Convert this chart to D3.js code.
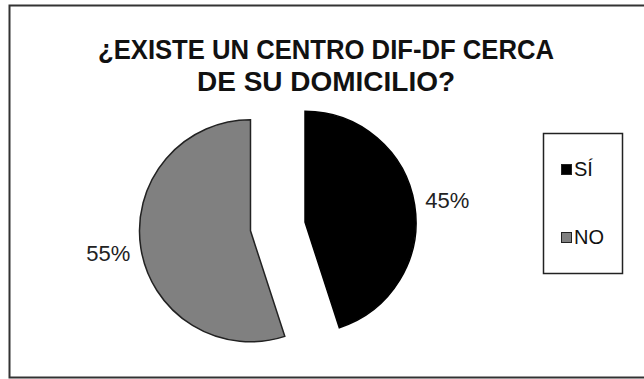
<!DOCTYPE html>
<html>
<head>
<meta charset="utf-8">
<script src="https://cdn.jsdelivr.net/npm/d3@7"></script>
<style>
  body { margin: 0; background: #fff; }
  svg { display: block; }
</style>
</head>
<body>
<svg id="chart" width="644" height="379"></svg>
<script>
// datos de la encuesta
var categorias = ["SÍ", "NO"];
var valores = [45, 55];
var etiquetas = ["45%", "55%"];
var colores = ["#000000", "#808080"];
var tituloLineas = ["¿EXISTE UN CENTRO DIF-DF CERCA", "DE SU DOMICILIO?"];
var tituloAncho = [456, 258];

var svg = d3.select("#chart");

// marco del grafico
svg.append("rect")
  .attr("x", 9.5).attr("y", 5.5)
  .attr("width", 640).attr("height", 372)
  .attr("fill", "#fff")
  .attr("stroke", "#333").attr("stroke-width", 2);

// titulo (fuente estrecha)
svg.selectAll("text.titulo")
  .data(tituloLineas)
  .enter().append("text")
  .attr("class", "titulo")
  .attr("text-anchor", "middle")
  .attr("x", 326)
  .attr("y", function(d, i) { return 59 + i * 32; })
  .attr("textLength", function(d, i) { return tituloAncho[i]; })
  .attr("lengthAdjust", "spacingAndGlyphs")
  .style("font-family", "'Liberation Sans', Arial, sans-serif")
  .style("font-weight", "bold")
  .style("font-size", "27px")
  .attr("fill", "#111")
  .text(function(d) { return d; });

// pastel
var cx = 277.75, cy = 226.5, r = 111, explode = 27.6;
var pie = d3.pie().sort(null).value(function(d) { return d; });
var arcos = pie(valores);
var arc = d3.arc().innerRadius(0).outerRadius(r);
var labelArc = d3.arc().innerRadius(144).outerRadius(144);

var g = svg.append("g").attr("transform", "translate(" + cx + "," + cy + ")");

var slices = g.selectAll("g.slice")
  .data(arcos)
  .enter().append("g")
  .attr("class", "slice")
  .attr("transform", function(d) {
    var a = (d.startAngle + d.endAngle) / 2;
    return "translate(" + (Math.sin(a) * explode) + "," + (-Math.cos(a) * explode) + ")";
  });

slices.append("path")
  .attr("d", arc)
  .attr("fill", function(d, i) { return colores[i]; })
  .attr("stroke", function(d, i) { return i == 0 ? "#000" : "#222"; })
  .attr("stroke-width", 1.5);

slices.append("text")
  .attr("transform", function(d) { return "translate(" + labelArc.centroid(d) + ")"; })
  .attr("text-anchor", "middle")
  .attr("dy", "0.36em")
  .style("font-family", "'Liberation Sans', Arial, sans-serif")
  .style("font-size", "22px")
  .attr("fill", "#222")
  .text(function(d, i) { return etiquetas[i]; });

// leyenda
var leyenda = svg.append("g");
leyenda.append("rect")
  .attr("x", 543.5).attr("y", 133.5)
  .attr("width", 79).attr("height", 140)
  .attr("fill", "#fff")
  .attr("stroke", "#222").attr("stroke-width", 1.5);

var items = leyenda.selectAll("g.item")
  .data(categorias)
  .enter().append("g")
  .attr("class", "item")
  .attr("transform", function(d, i) { return "translate(561," + (169 + i * 68) + ")"; });

items.append("rect")
  .attr("x", 0.5).attr("y", -4.5)
  .attr("width", 10).attr("height", 10)
  .attr("fill", function(d, i) { return colores[i]; })
  .attr("stroke", "#222").attr("stroke-width", 1);

items.append("text")
  .attr("x", 13).attr("y", 0)
  .attr("dy", "0.36em")
  .style("font-family", "'Liberation Sans', Arial, sans-serif")
  .style("font-size", "20px")
  .attr("fill", "#111")
  .text(function(d) { return d; });
</script>
</body>
</html>
